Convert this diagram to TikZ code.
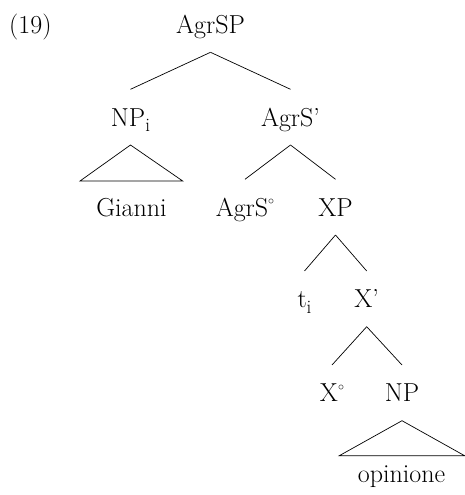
\documentclass[tikz,border=0pt]{standalone}
\newcommand{\mysub}[1]{\raisebox{-0.22em}{\fontsize{19}{20}\selectfont #1}}
\newcommand{\mydeg}{\raisebox{0.45em}{\fontsize{13}{14}\selectfont$\circ$}}
\begin{document}
\begin{tikzpicture}[x=1pt,y=-1pt,
  every node/.style={font=\fontsize{26}{30}\selectfont},
  lbl/.style={anchor=base,inner sep=0pt,outer xsep=0pt,outer ysep=19pt,text height=17.7pt,text depth=0pt},
  branch/.style={line width=0.7pt}]
\useasboundingbox (0,0) rectangle (465,495);
\node[anchor=base west,inner sep=0pt] (ex) at (9,33.3) {(19)};
\node[lbl] (agrsp) at (210.5,33.3) {AgrSP};
\node[lbl] (npi) at (130.5,126) {NP\mysub{i}};
\node[lbl] (agrsbar) at (290.5,126) {AgrS’};
\node[lbl] (gianni) at (131.5,216) {Gianni};
\node[lbl] (agrs0) at (245,216) {AgrS\mydeg};
\node[lbl] (xp) at (335.5,216) {XP};
\node[lbl] (ti) at (304.5,307.7) {t\mysub{i}};
\node[lbl] (xbar) at (366.7,307.7) {X’};
\node[lbl] (x0) at (332,401.7) {X\mydeg};
\node[lbl] (np) at (402,401.7) {NP};
\node[lbl] (opinione) at (401.5,482.3) {opinione};
\coordinate (t1l) at (80,181);
\coordinate (t1r) at (182.7,181);
\coordinate (t2l) at (339.3,455.7);
\coordinate (t2r) at (464.6,455.7);
\draw[branch] (agrsp.south) -- (npi.north);
\draw[branch] (agrsp.south) -- (agrsbar.north);
\draw[branch] (npi.south) -- (t1l) -- (t1r) -- cycle;
\draw[branch] (agrsbar.south) -- (agrs0.north);
\draw[branch] (agrsbar.south) -- (xp.north);
\draw[branch] (xp.south) -- (ti.north);
\draw[branch] (xp.south) -- (xbar.north);
\draw[branch] (xbar.south) -- (x0.north);
\draw[branch] (xbar.south) -- (np.north);
\draw[branch] (np.south) -- (t2l) -- (t2r) -- cycle;
\end{tikzpicture}
\end{document}
